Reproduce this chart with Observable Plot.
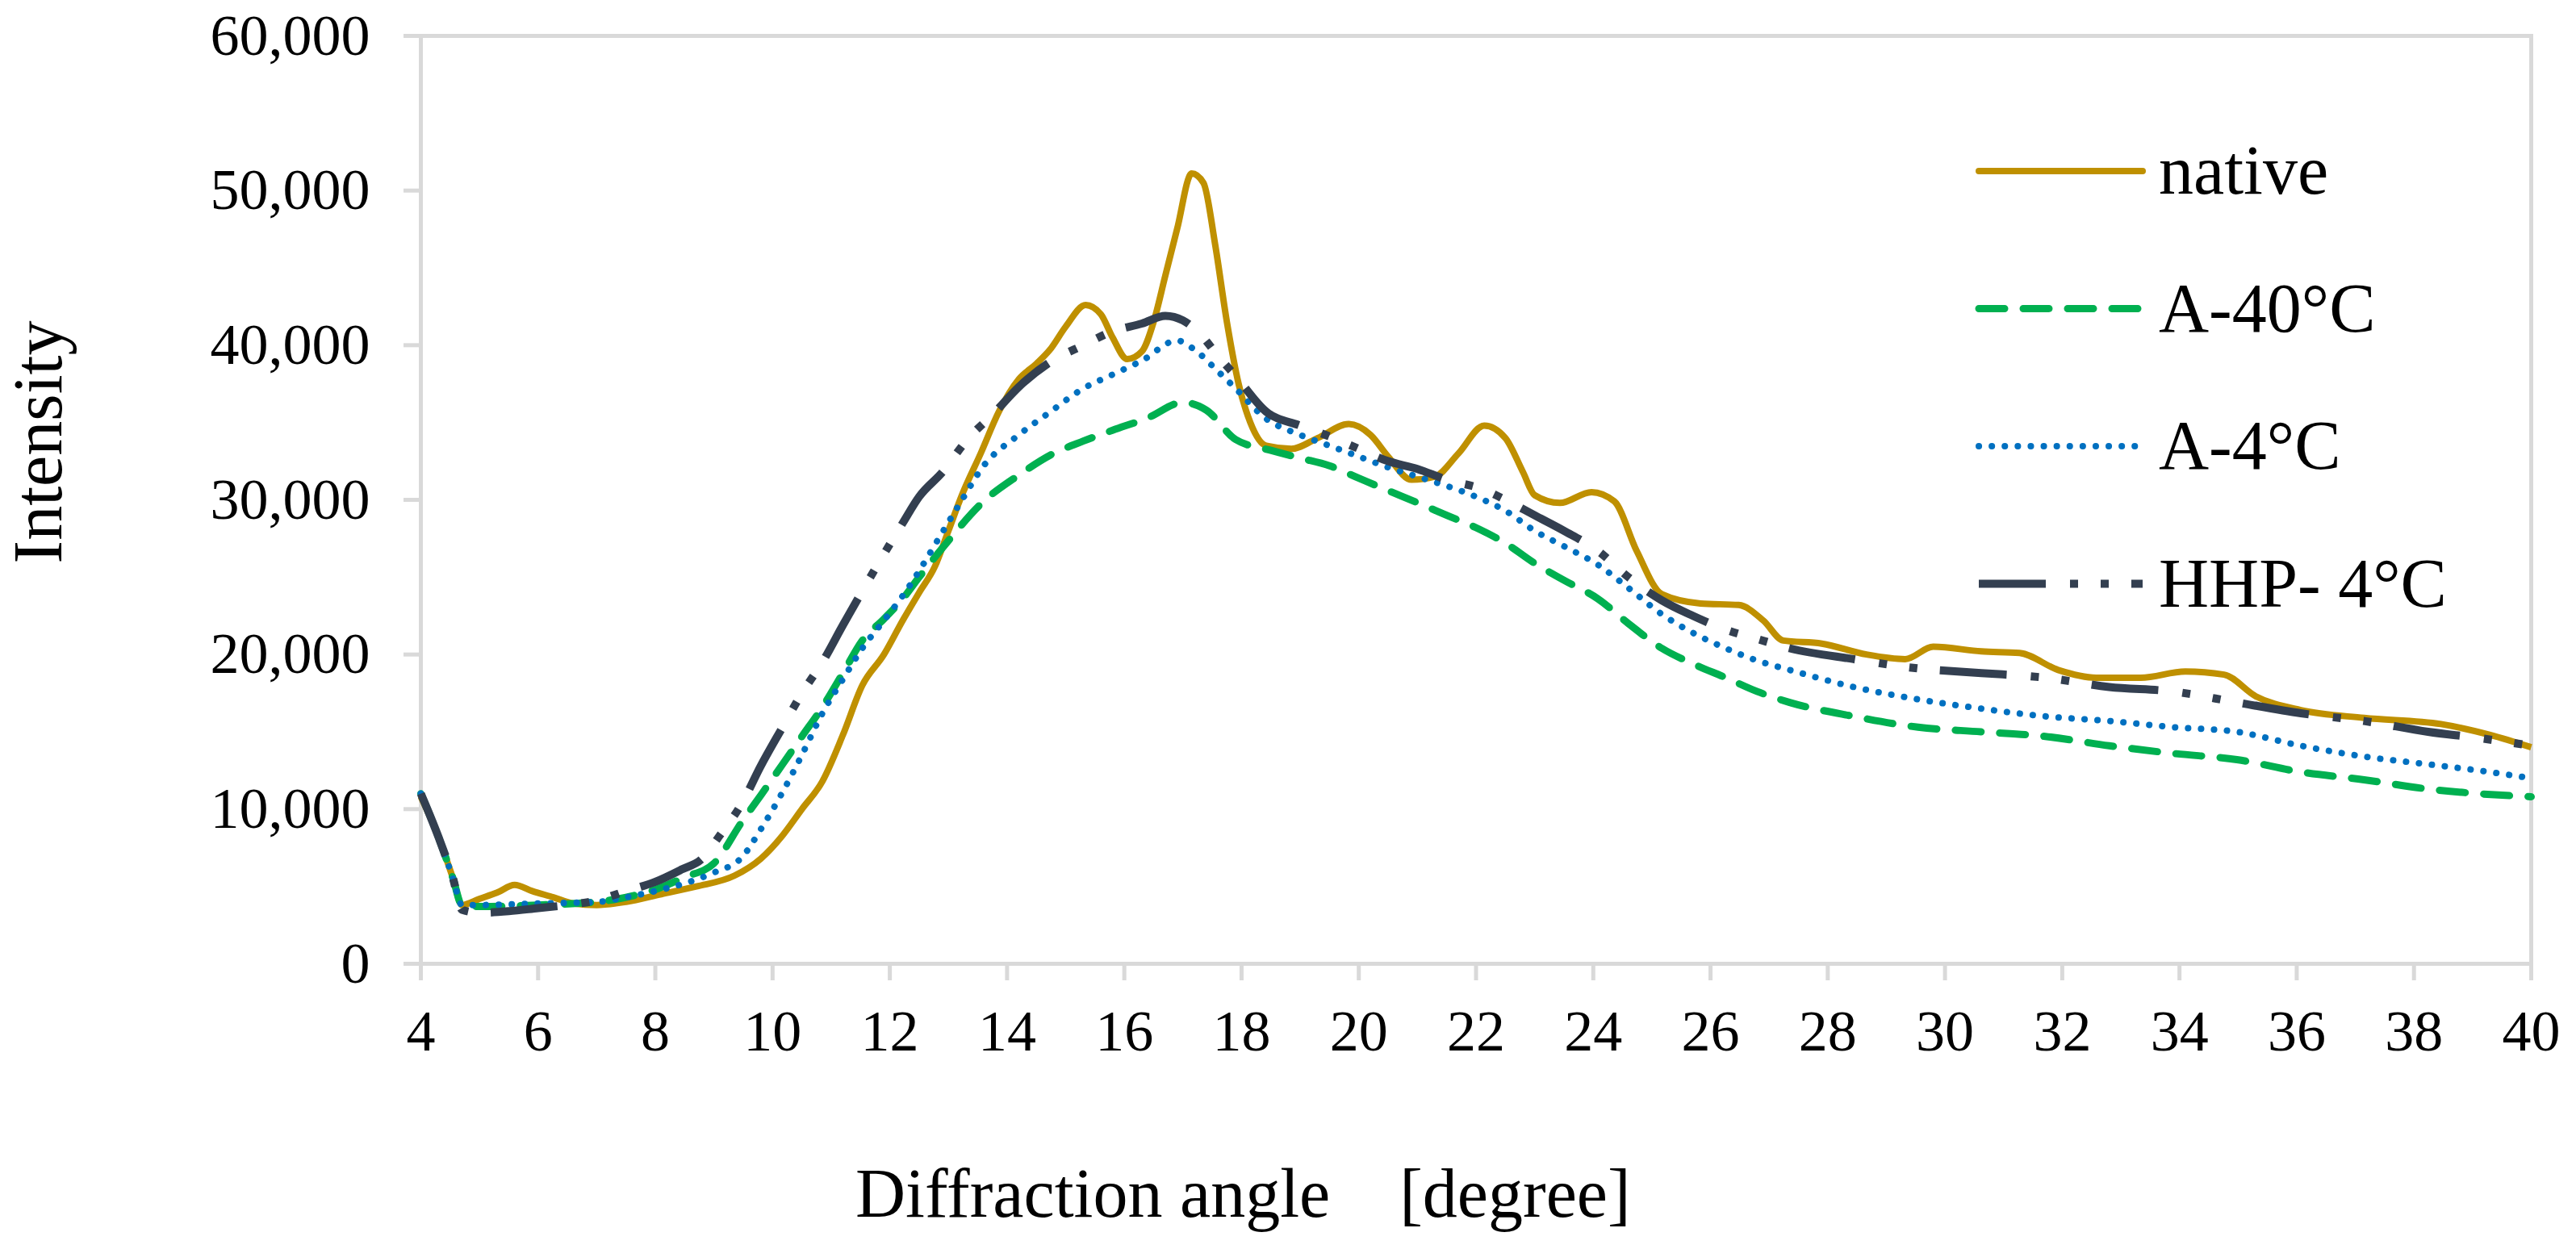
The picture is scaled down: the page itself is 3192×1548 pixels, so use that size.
<!DOCTYPE html>
<html>
<head>
<meta charset="utf-8">
<script src="https://cdn.jsdelivr.net/npm/d3@7"></script>
<script src="https://cdn.jsdelivr.net/npm/@observablehq/plot@0.6"></script>
<style>
  html, body { margin: 0; padding: 0; background: #ffffff; }
  #chart { width: 3192px; height: 1548px; }
</style>
</head>
<body>
<div id="chart"></div>
<script>
// ---- Data ----
const seriesNames = ["native", "A-40°C", "A-4°C", "HHP- 4°C"];
const seriesColors = ["#BF9000", "#00B050", "#0070C0", "#333F50"];
const seriesDash = [null, "32,23", "0.1,16", "83,30,10,28,10,28"];
const seriesWidth = [8, 9, 8, 10];

const xTicks = [4, 6, 8, 10, 12, 14, 16, 18, 20, 22, 24, 26, 28, 30, 32, 34, 36, 38, 40];
const yTicks = [0, 10000, 20000, 30000, 40000, 50000, 60000];

const nativeAngle = [4.0, 4.3, 4.55, 4.7, 5.0, 5.3, 5.6, 5.9, 6.26, 6.6, 7.0, 7.5, 8.1, 8.7, 9.35, 9.8, 10.17, 10.5, 10.85, 11.2, 11.53, 11.9, 12.22, 12.5, 12.77, 13.0, 13.24, 13.55, 13.86, 14.2, 14.5, 14.73, 15.0, 15.34, 15.6, 15.8, 16.05, 16.3, 16.5, 16.7, 16.9, 17.15, 17.35, 17.55, 17.75, 17.95, 18.15, 18.42, 18.85, 19.3, 19.83, 20.2, 20.5, 20.9, 21.3, 21.7, 22.14, 22.5, 22.8, 23.0, 23.43, 23.97, 24.36, 24.74, 25.17, 25.83, 26.48, 26.9, 27.24, 27.9, 28.66, 29.32, 29.8, 30.62, 31.27, 31.93, 32.58, 33.34, 34.1, 34.76, 35.3, 36.07, 37.15, 38.46, 39.3, 40.0];
const nativeIntensity = [10800, 8200, 5500, 3800, 4200, 4600, 5100, 4700, 4300, 3900, 3800, 4000, 4500, 5000, 5700, 6800, 8300, 10000, 11800, 14800, 18000, 20000, 22200, 24000, 25700, 28000, 30400, 33000, 35700, 37800, 38800, 39700, 41200, 42600, 42000, 40500, 39100, 39600, 41500, 44500, 47500, 51100, 50500, 46500, 41500, 37500, 35000, 33500, 33300, 34000, 34900, 34200, 32800, 31300, 31500, 33000, 34800, 34000, 31800, 30300, 29800, 30500, 29900, 26700, 23900, 23300, 23200, 22200, 20900, 20700, 20000, 19700, 20500, 20200, 20100, 19000, 18500, 18500, 18900, 18700, 17300, 16400, 15900, 15500, 14800, 14000];

const a40Angle = [4.0, 4.3, 4.55, 4.7, 5.0, 6.0, 7.0, 7.5, 8.0, 8.5, 9.0, 9.48, 9.8, 10.17, 10.5, 10.85, 11.2, 11.53, 11.9, 12.22, 12.5, 12.9, 13.6, 14.2, 14.74, 15.3, 15.8, 16.4, 17.0, 17.4, 17.9, 18.5, 19.0, 19.5, 20.0, 20.5, 21.07, 21.5, 22.0, 22.5, 23.0, 23.5, 24.08, 24.6, 25.17, 25.7, 26.26, 26.8, 27.35, 28.44, 29.54, 30.62, 31.71, 32.8, 33.9, 34.98, 36.07, 37.15, 38.24, 39.1, 40.0];
const a40Intensity = [11000, 8200, 5500, 3800, 3700, 3800, 4000, 4300, 4800, 5600, 6500, 9200, 10900, 12900, 14700, 16600, 18800, 20900, 22300, 23600, 25000, 26900, 29900, 31600, 32900, 33800, 34500, 35300, 36300, 35800, 33900, 33200, 32700, 32200, 31400, 30600, 29700, 29000, 28200, 27200, 25900, 24800, 23600, 22000, 20400, 19400, 18500, 17600, 16900, 16000, 15300, 15000, 14700, 14100, 13600, 13200, 12400, 11900, 11300, 11000, 10800];

const a4Angle = [4.0, 4.3, 4.55, 4.7, 5.0, 6.0, 7.0, 7.5, 8.0, 8.5, 9.0, 9.48, 9.8, 10.17, 10.5, 10.85, 11.2, 11.53, 11.9, 12.22, 12.5, 12.77, 13.2, 13.6, 14.2, 14.74, 15.3, 15.8, 16.3, 16.9, 17.2, 17.6, 17.9, 18.4, 19.0, 19.5, 20.0, 20.5, 21.0, 21.5, 22.0, 22.5, 23.0, 23.5, 24.08, 24.6, 25.17, 25.7, 26.26, 26.8, 27.35, 28.44, 29.54, 30.62, 31.71, 32.8, 33.9, 34.98, 36.07, 37.15, 38.24, 39.1, 40.0];
const a4Intensity = [11000, 8200, 5500, 3800, 3800, 3900, 4000, 4300, 4700, 5200, 5900, 6900, 8700, 11100, 13500, 16200, 18400, 20400, 22200, 23800, 25400, 27100, 29800, 32200, 34200, 35700, 37200, 38100, 39000, 40300, 39700, 38300, 37200, 35300, 34200, 33500, 32800, 32100, 31500, 30900, 30200, 29300, 28000, 27000, 25800, 24300, 22600, 21400, 20400, 19600, 19000, 17900, 17100, 16500, 16000, 15700, 15300, 15000, 14100, 13400, 12900, 12500, 12000];

const hhpAngle = [4.0, 4.3, 4.55, 4.7, 5.0, 5.5, 6.0, 6.5, 7.0, 7.5, 8.0, 8.45, 8.8, 9.1, 9.48, 9.8, 10.17, 10.5, 10.85, 11.2, 11.53, 11.9, 12.22, 12.5, 12.9, 13.3, 13.8, 14.2, 14.73, 15.3, 15.8, 16.3, 16.7, 17.0, 17.3, 17.6, 17.9, 18.42, 19.0, 19.5, 20.0, 20.5, 21.0, 21.5, 22.1, 22.5, 23.0, 23.5, 24.08, 24.6, 25.17, 25.7, 26.26, 26.8, 27.35, 28.44, 29.54, 30.62, 31.71, 32.8, 33.9, 34.98, 36.07, 37.15, 38.24, 39.1, 40.0];
const hhpIntensity = [11000, 8200, 5500, 3500, 3300, 3400, 3600, 3800, 4100, 4700, 5300, 6100, 6800, 8300, 10400, 12800, 15300, 17500, 19500, 21900, 24100, 26500, 28500, 30200, 31800, 33800, 35700, 37300, 38900, 40000, 40900, 41400, 41900, 41600, 40700, 39300, 38000, 35700, 34800, 34100, 33300, 32500, 32000, 31300, 30700, 30000, 29000, 28000, 26700, 25000, 23500, 22500, 21600, 21000, 20400, 19700, 19100, 18800, 18500, 17900, 17600, 16900, 16200, 15700, 15000, 14600, 14100];

const seriesAngles = [nativeAngle, a40Angle, a4Angle, hhpAngle];
const seriesValues = [nativeIntensity, a40Intensity, a4Intensity, hhpIntensity];

// ---- Build table ----
const rows = seriesNames.flatMap((name, s) =>
  seriesAngles[s].map((a, i) => ({series: name, angle: a, intensity: seriesValues[s][i]}))
);

const FONT = "'Liberation Serif', 'Times New Roman', serif";
const GRID = "#d9d9d9";

const chart = Plot.plot({
  width: 3192,
  height: 1548,
  marginLeft: 521,
  marginRight: 56,
  marginTop: 44,
  marginBottom: 354,
  style: {fontFamily: FONT, fontSize: "72px", background: "#ffffff", color: "#000000"},
  x: {domain: [4, 40]},
  y: {domain: [0, 60000]},
  marks: [
    Plot.frame({stroke: GRID, strokeWidth: 5}),
    Plot.axisY({ticks: yTicks, tickFormat: d3.format(","), tickSize: 21, tickPadding: 42,
      stroke: GRID, strokeWidth: 5, fill: "#000000", fontSize: 72, label: null}),
    Plot.axisX({ticks: xTicks, tickFormat: d => String(d), tickSize: 21, tickPadding: 35,
      stroke: GRID, strokeWidth: 5, fill: "#000000", fontSize: 72, label: null}),
    ...seriesNames.map((name, s) => Plot.line(rows.filter(r => r.series === name), {
      x: "angle", y: "intensity",
      stroke: seriesColors[s],
      strokeWidth: seriesWidth[s],
      strokeDasharray: seriesDash[s] ?? undefined,
      strokeLinecap: s === 2 ? "round" : (s === 1 ? "round" : "butt"),
      strokeLinejoin: "round",
      curve: "monotone-x"
    }))
  ]
});

document.getElementById("chart").appendChild(chart);

// ---- Titles and legend (overlay text inside the same SVG) ----
const svg = d3.select(chart);

svg.append("text")
  .attr("x", 1060).attr("y", 1508)
  .attr("text-anchor", "start")
  .attr("font-family", FONT).attr("font-size", 86).attr("fill", "#000")
  .text("Diffraction angle\u00a0\u00a0\u00a0\u00a0[degree]");

svg.append("text")
  .attr("transform", "translate(76,548) rotate(-90)")
  .attr("text-anchor", "middle")
  .attr("font-family", FONT).attr("font-size", 86).attr("fill", "#000")
  .text("Intensity");

const legendTop = 212, legendStep = 170.5, swatchX0 = 2452, swatchX1 = 2655, labelX = 2675;
const lg = svg.append("g");
seriesNames.forEach((name, s) => {
  const yy = legendTop + s * legendStep;
  const ln = lg.append("line")
    .attr("x1", swatchX0).attr("x2", swatchX1).attr("y1", yy).attr("y2", yy)
    .attr("stroke", seriesColors[s]).attr("stroke-width", seriesWidth[s])
    .attr("stroke-linecap", s === 0 || s === 1 || s === 2 ? "round" : "butt");
  if (seriesDash[s]) ln.attr("stroke-dasharray", seriesDash[s]);
  lg.append("text")
    .attr("x", labelX).attr("y", yy).attr("dy", "0.33em")
    .attr("text-anchor", "start")
    .attr("font-family", FONT).attr("font-size", 86).attr("fill", "#000")
    .text(name);
});
</script>
</body>
</html>
